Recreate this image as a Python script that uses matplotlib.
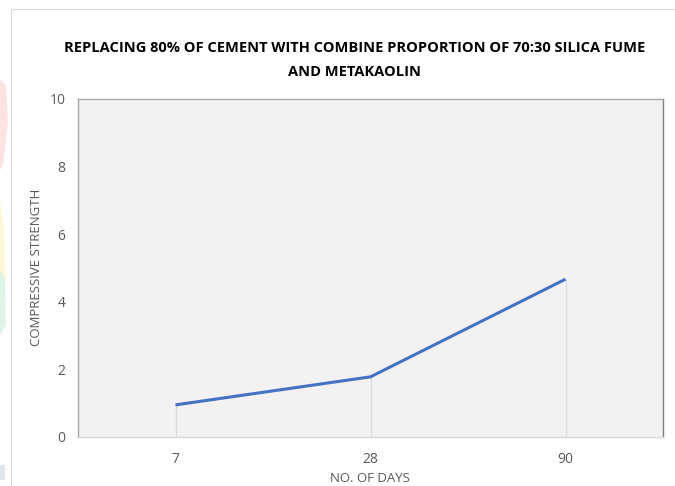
import matplotlib
matplotlib.use("Agg")
import matplotlib.pyplot as plt
from matplotlib.patches import Rectangle, Polygon

# Data
days = ["7", "28", "90"]
strength = [0.95, 1.78, 4.67]
y_ticks = [0, 2, 4, 6, 8, 10]

title = "REPLACING 80% OF CEMENT WITH COMBINE PROPORTION OF 70:30 SILICA FUME\nAND METAKAOLIN"
x_label = "NO. OF DAYS"
y_label = "COMPRESSIVE STRENGTH"

W, H = 675, 486
fig = plt.figure(figsize=(W / 100, H / 100), dpi=100)
fig.patch.set_facecolor("white")

def fx(px):
    return px / W

def fy(py):
    return 1 - py / H

# Faint decorative shapes at the left edge
fig.patches.append(Polygon([(fx(0), fy(80)), (fx(6), fy(85)), (fx(8), fy(120)),
                            (fx(3), fy(165)), (fx(0), fy(170))],
                           closed=True, transform=fig.transFigure,
                           facecolor="#fde2e2", edgecolor="none", zorder=0))
fig.patches.append(Polygon([(fx(0), fy(200)), (fx(4), fy(230)), (fx(6), fy(280)),
                            (fx(0), fy(300))],
                           closed=True, transform=fig.transFigure,
                           facecolor="#fdf8d8", edgecolor="none", zorder=0))
fig.patches.append(Polygon([(fx(0), fy(270)), (fx(5), fy(280)), (fx(6), fy(325)),
                            (fx(0), fy(335))],
                           closed=True, transform=fig.transFigure,
                           facecolor="#dff3e6", edgecolor="none", zorder=0))
fig.patches.append(Rectangle((fx(0), fy(480)), fx(5), 15 / H, transform=fig.transFigure,
                             facecolor="#dfe6ee", edgecolor="none", zorder=0))

# Outer chart frame
fig.patches.append(Rectangle((fx(10.5), fy(500)), fx(700), 490.5 / H,
                             transform=fig.transFigure, facecolor="none",
                             edgecolor="#d9d9d9", linewidth=0.8, zorder=1))

ax = fig.add_axes([fx(78), fy(437), fx(663 - 78), (437 - 99) / H])
ax.set_facecolor("#f2f2f2")

x = list(range(len(days)))
ax.vlines(x, 0, strength, colors="#d9d9d9", linewidth=0.9, zorder=2)
ax.plot(x, strength, color="#4472c4", linewidth=2.2, solid_capstyle="butt",
        solid_joinstyle="round", zorder=3)

ax.set_xlim(-0.5, len(days) - 0.5)
ax.set_ylim(0, 10)
ax.set_xticks(x)
ax.set_xticklabels(days)
ax.set_yticks(y_ticks)

for side in ["top", "right", "left"]:
    ax.spines[side].set_color("#a6a6a6")
    ax.spines[side].set_linewidth(1.0)
ax.spines["right"].set_color("#808080")
ax.spines["bottom"].set_color("#d9d9d9")
ax.spines["bottom"].set_linewidth(1.0)

ax.tick_params(axis="both", length=0, labelsize=10, labelcolor="#595959")
ax.tick_params(axis="x", pad=11)
ax.tick_params(axis="y", pad=9)

font = "Open Sans"
for lbl in ax.get_xticklabels() + ax.get_yticklabels():
    lbl.set_fontfamily(font)

fig.text(fx(370), fy(478), x_label, ha="center", va="center", fontsize=9.5,
         color="#595959", family=font)
fig.text(fx(37), fy(267), y_label, ha="center", va="center", rotation=90,
         fontsize=9.5, color="#595959", family=font)
fig.text(fx(355), fy(60), title, ha="center", va="center", fontsize=10.5,
         fontweight="bold", color="black", family=font, linespacing=2.0)

fig.savefig("out.png", dpi=100)
